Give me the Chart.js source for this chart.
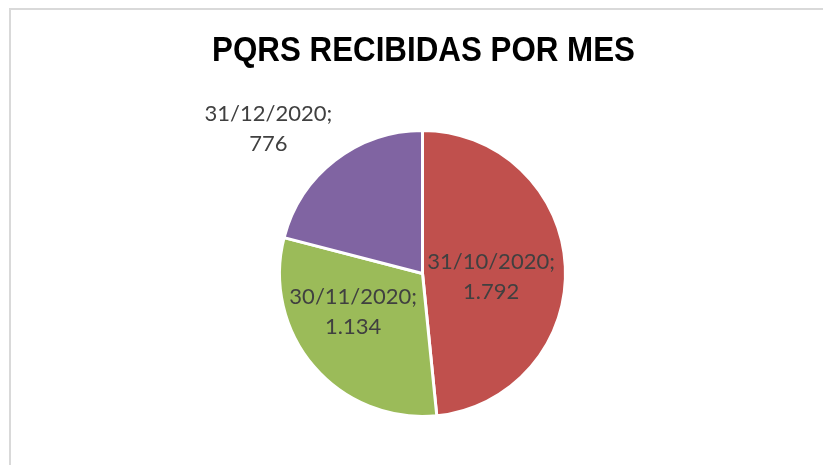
<!DOCTYPE html>
<html>
<head>
<meta charset="utf-8">
<script src="https://cdn.jsdelivr.net/npm/chart.js@4/dist/chart.umd.min.js"></script>
<style>
  body { margin: 0; background: #fff; }
  #frame { position: absolute; left: 9px; top: 8px; width: 900px; height: 500px; border: 2px solid #d9d9d9; }
  #chartPQRS { position: absolute; left: 0; top: 0; }
</style>
</head>
<body>
<div id="frame"></div>
<canvas id="chartPQRS" width="823" height="465"></canvas>
<script>
// datos del grafico
const titulo = 'PQRS RECIBIDAS POR MES';
const meses = ['31/10/2020', '30/11/2020', '31/12/2020'];
const pqrs = [1792, 1134, 776];
const etiquetas = ['1.792', '1.134', '776'];
const colores = ['#c0504d', '#9bbb59', '#8064a2'];

// posicion de las etiquetas: distancia (fraccion del radio) y giro (grados) respecto al angulo medio
const ubicacion = [
    { dist: 0.48, giro: 5.8 },
    { dist: 0.555, giro: 11.4 },
    { dist: 1.48, giro: -9 }
];

// titulo en letra estrecha (no hay Arial Narrow, se comprime la Liberation Sans)
const tituloPlugin = {
    id: 'tituloEstrecho',
    afterDraw(chart) {
        const ctx = chart.ctx;
        const area = chart.chartArea;
        ctx.save();
        ctx.font = 'bold 35px "Liberation Sans"';
        ctx.fillStyle = '#000000';
        ctx.textAlign = 'center';
        ctx.textBaseline = 'alphabetic';
        ctx.translate((area.left + area.right) / 2 + 1, 61);
        ctx.scale(0.895, 1);
        ctx.fillText(titulo, 0, 0);
        ctx.restore();
    }
};

const etiquetasPlugin = {
    id: 'etiquetasPie',
    afterDatasetsDraw(chart) {
        const ctx = chart.ctx;
        const meta = chart.getDatasetMeta(0);
        ctx.save();
        ctx.font = '22px Lato';
        ctx.fillStyle = '#404040';
        ctx.textAlign = 'center';
        ctx.textBaseline = 'middle';
        meta.data.forEach((arc, i) => {
            const p = arc.getProps(['x', 'y', 'startAngle', 'endAngle', 'outerRadius'], true);
            const ang = (p.startAngle + p.endAngle) / 2 + ubicacion[i].giro * Math.PI / 180;
            const r = p.outerRadius * ubicacion[i].dist;
            const x = p.x + Math.cos(ang) * r;
            const y = p.y + Math.sin(ang) * r;
            ctx.fillText(meses[i] + ';', x, y - 15);
            ctx.fillText(etiquetas[i], x, y + 15);
        });
        ctx.restore();
    }
};

const ctxPQRS = document.getElementById('chartPQRS').getContext('2d');
new Chart(ctxPQRS, {
    type: 'pie',
    data: {
        labels: meses,
        datasets: [{
            label: 'PQRS',
            data: pqrs,
            backgroundColor: colores,
            borderColor: '#ffffff',
            borderWidth: 3
        }]
    },
    options: {
        responsive: false,
        animation: false,
        layout: { padding: { left: 22, right: 0, top: 129, bottom: 47 } },
        plugins: {
            legend: { display: false },
            tooltip: { enabled: false },
            title: { display: false }
        }
    },
    plugins: [etiquetasPlugin, tituloPlugin]
});
</script>
</body>
</html>
